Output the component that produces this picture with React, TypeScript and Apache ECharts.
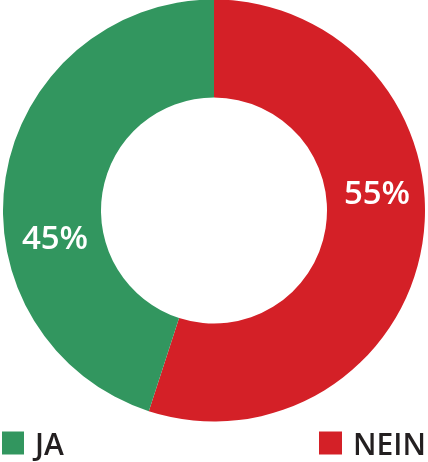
import React, { useEffect, useRef } from "react";
import * as echarts from "echarts";

const categories = ["NEIN", "JA"];
const values = [55, 45];
const colors = ["#d42027", "#32965f"];
const labelPos = [
  [377, 191],
  [55, 236],
];

export default function App() {
  const ref = useRef<HTMLDivElement>(null);
  useEffect(() => {
    if (!ref.current) return;
    const chart = echarts.init(ref.current, null, { renderer: "svg" });
    const font = "'Open Sans', 'Noto Sans', sans-serif";
    const legendText = {
      fontFamily: font,
      fontWeight: 600,
      fontSize: 30,
      lineHeight: 23,
      color: "#231f20",
      padding: [0, 0, 0, 6],
    };
    chart.setOption({
      animation: false,
      legend: [
        {
          data: ["JA"],
          left: 2,
          bottom: 4,
          icon: "rect",
          itemWidth: 22,
          itemHeight: 23,
          padding: 0,
          textStyle: legendText,
          selectedMode: false,
        },
        {
          data: ["NEIN"],
          left: 319,
          bottom: 4,
          icon: "rect",
          itemWidth: 23,
          itemHeight: 23,
          padding: 0,
          textStyle: legendText,
          selectedMode: false,
        },
      ],
      series: [
        {
          type: "pie",
          center: [214, 210.5],
          radius: [113, 211],
          startAngle: 90,
          clockwise: true,
          silent: true,
          data: categories.map((c, i) => ({
            name: c,
            value: values[i],
            itemStyle: { color: colors[i] },
          })),
          label: {
            show: true,
            position: "inside",
            formatter: "{c}%",
            color: "#ffffff",
            fontFamily: font,
            fontWeight: 600,
            fontSize: 33,
          },
          labelLine: { show: false },
          labelLayout: (p: any) => ({
            x: labelPos[p.dataIndex][0],
            y: labelPos[p.dataIndex][1],
            align: "center",
            verticalAlign: "middle",
          }),
        },
      ],
    });
    return () => chart.dispose();
  }, []);
  return (
    <div
      ref={ref}
      style={{ position: "fixed", left: 0, top: 0, width: 428, height: 462 }}
    />
  );
}
